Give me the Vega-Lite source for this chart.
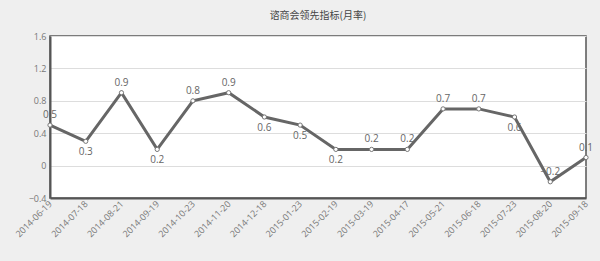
{
  "$schema": "https://vega.github.io/schema/vega-lite/v6.json",
  "autosize": {"type": "none"},
  "padding": {"left": 50, "top": 36, "right": 14, "bottom": 63},
  "width": 536,
  "height": 162,
  "background": "#efefef",
  "title": {"text": "谘商会领先指标(月率)", "font": "Noto Sans CJK SC", "fontSize": 10, "fontWeight": "normal", "color": "#444444", "offset": 11},
  "config": {
    "view": {"fill": "#ffffff", "stroke": "#555555", "strokeWidth": 1.5},
    "font": "Open Sans"
  },
  "data": {"values": [
    {"date": "2014-06-19", "value": 0.5},
    {"date": "2014-07-18", "value": 0.3},
    {"date": "2014-08-21", "value": 0.9},
    {"date": "2014-09-19", "value": 0.2},
    {"date": "2014-10-23", "value": 0.8},
    {"date": "2014-11-20", "value": 0.9},
    {"date": "2014-12-18", "value": 0.6},
    {"date": "2015-01-23", "value": 0.5},
    {"date": "2015-02-19", "value": 0.2},
    {"date": "2015-03-19", "value": 0.2},
    {"date": "2015-04-17", "value": 0.2},
    {"date": "2015-05-21", "value": 0.7},
    {"date": "2015-06-18", "value": 0.7},
    {"date": "2015-07-23", "value": 0.6},
    {"date": "2015-08-20", "value": -0.2},
    {"date": "2015-09-18", "value": 0.1}
  ]},
  "encoding": {
    "x": {"field": "date", "type": "ordinal", "sort": null,
      "scale": {"type": "point", "padding": 0},
      "axis": {"title": null, "labelAngle": -45, "labelAlign": "right", "labelBaseline": "middle", "labelFontSize": 9, "labelColor": "#777777", "domainColor": "#555555", "domainWidth": 2, "ticks": false, "labelPadding": 4}},
    "y": {"field": "value", "type": "quantitative",
      "scale": {"domain": [-0.4, 1.6], "nice": false, "zero": false},
      "axis": {"title": null, "values": [-0.4, 0, 0.4, 0.8, 1.2, 1.6], "format": ".1~f", "labelFontSize": 9, "labelColor": "#777777", "domainColor": "#555555", "domainWidth": 2, "ticks": false, "labelPadding": 4, "gridColor": "#dddddd", "gridWidth": 1}}
  },
  "layer": [
    {"mark": {"type": "line", "color": "#666666", "strokeWidth": 3}},
    {"mark": {"type": "point", "filled": true, "fill": "#ffffff", "stroke": "#777777", "strokeWidth": 1, "size": 18, "opacity": 1}},
    {"transform": [{"filter": {"not": {"field": "date", "oneOf": ["2014-07-18", "2014-09-19", "2014-12-18", "2015-01-23", "2015-02-19", "2015-07-23"]}}}],
     "mark": {"type": "text", "dy": -10, "fontSize": 10, "color": "#666666"},
     "encoding": {"text": {"field": "value", "type": "quantitative", "format": ".1~f"}}},
    {"transform": [{"filter": {"field": "date", "oneOf": ["2014-07-18", "2014-09-19", "2014-12-18", "2015-01-23", "2015-02-19", "2015-07-23"]}}],
     "mark": {"type": "text", "dy": 11, "fontSize": 10, "color": "#666666"},
     "encoding": {"text": {"field": "value", "type": "quantitative", "format": ".1~f"}}}
  ]
}
